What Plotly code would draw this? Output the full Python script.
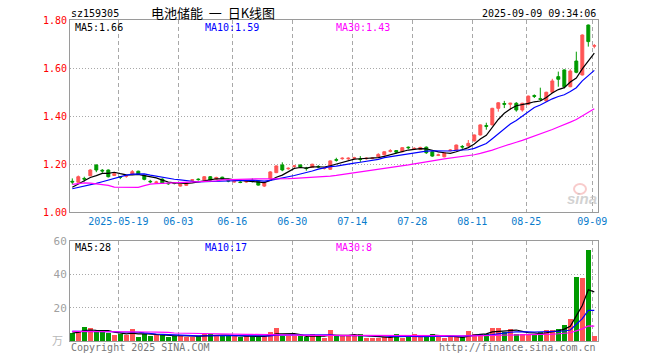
import plotly.graph_objects as go
import pandas as pd

# ---------------- data ----------------
opens = [1.128,1.124,1.140,1.151,1.196,1.174,1.175,1.152,1.147,1.149,
         1.157,1.170,1.153,1.128,1.123,1.137,1.120,1.121,1.108,1.111,
         1.132,1.137,1.133,1.147,1.137,1.145,1.131,1.125,1.125,1.125,
         1.132,1.129,1.108,1.137,1.164,1.196,1.180,1.190,1.196,1.183,
         1.186,1.190,1.181,1.178,1.218,1.222,1.222,1.224,1.221,1.222,
         1.223,1.230,1.238,1.253,1.256,1.251,1.270,1.263,1.260,1.270,
         1.251,1.236,1.230,1.256,1.258,1.273,1.275,1.296,1.321,1.360,
         1.363,1.432,1.452,1.449,1.453,1.425,1.449,1.485,1.472,1.4625,
         1.499,1.564,1.592,1.522,1.629,1.571,1.779,1.691]
closes = [1.125,1.147,1.137,1.175,1.175,1.171,1.147,1.160,1.145,1.151,
          1.168,1.157,1.136,1.126,1.125,1.120,1.118,1.119,1.115,1.122,
          1.134,1.135,1.147,1.133,1.144,1.137,1.129,1.127,1.123,1.127,
          1.130,1.112,1.122,1.167,1.192,1.175,1.182,1.192,1.186,1.181,
          1.199,1.188,1.183,1.213,1.216,1.224,1.224,1.226,1.219,1.224,
          1.225,1.240,1.251,1.255,1.249,1.268,1.268,1.265,1.269,1.247,
          1.233,1.238,1.247,1.258,1.279,1.271,1.286,1.321,1.363,1.357,
          1.432,1.455,1.449,1.453,1.425,1.453,1.483,1.482,1.470,1.499,
          1.546,1.553,1.522,1.5875,1.582,1.7375,1.710,1.693]
highs = [1.140,1.152,1.147,1.178,1.198,1.179,1.177,1.163,1.150,1.155,
         1.175,1.172,1.155,1.134,1.130,1.140,1.124,1.125,1.117,1.124,
         1.137,1.140,1.150,1.150,1.147,1.147,1.137,1.131,1.128,1.131,
         1.140,1.131,1.124,1.170,1.194,1.207,1.186,1.196,1.198,1.188,
         1.201,1.195,1.186,1.215,1.226,1.228,1.228,1.230,1.233,1.228,
         1.228,1.245,1.253,1.262,1.258,1.270,1.273,1.270,1.272,1.273,
         1.253,1.243,1.249,1.262,1.281,1.279,1.300,1.323,1.365,1.372,
         1.434,1.458,1.463,1.455,1.458,1.455,1.485,1.490,1.518,1.501,
         1.555,1.585,1.594,1.595,1.668,1.740,1.781,1.700]
lows = [1.115,1.120,1.127,1.149,1.166,1.163,1.144,1.150,1.137,1.143,
        1.155,1.155,1.132,1.120,1.120,1.118,1.113,1.115,1.106,1.109,
        1.128,1.131,1.131,1.131,1.135,1.135,1.124,1.122,1.120,1.122,
        1.123,1.110,1.104,1.133,1.162,1.170,1.176,1.184,1.184,1.172,
        1.184,1.183,1.177,1.176,1.210,1.218,1.215,1.219,1.208,1.218,
        1.220,1.228,1.236,1.248,1.244,1.249,1.262,1.259,1.258,1.242,
        1.230,1.233,1.228,1.253,1.256,1.263,1.273,1.294,1.319,1.343,
        1.361,1.418,1.433,1.425,1.418,1.418,1.445,1.475,1.463,1.460,
        1.497,1.522,1.515,1.520,1.578,1.569,1.689,1.682]
volumes = [5.0,5.4,8.4,7.6,5.4,5.4,4.6,3.6,4.4,3.6,
           7.0,2.6,4.2,3.0,3.6,3.6,2.6,3.0,3.0,2.6,
           2.6,3.0,4.4,4.2,3.0,3.0,3.0,3.0,2.2,3.0,
           3.0,2.6,3.0,5.4,7.6,3.0,3.0,3.0,3.0,2.2,
           4.4,3.0,1.6,6.6,3.0,3.0,3.0,3.6,4.2,1.6,
           2.0,2.0,2.6,2.6,4.2,1.6,3.0,4.2,3.0,3.0,
           4.4,2.2,1.6,2.6,2.6,2.2,6.0,4.4,4.4,4.4,
           8.0,8.0,5.2,7.2,4.5,4.2,4.2,4.0,5.4,6.9,
           6.9,7.2,9.4,13.5,38.4,38.0,54.6,3.0]

# moving-average values at the left edge (history before the window)
ma5_head = [1.103,1.117,1.131,1.144]
ma10_head = [1.097,1.102,1.107,1.113,1.119,1.126,1.133,1.140,1.146]
ma30_head = [1.115,1.119,1.121,1.120,1.117,1.114,1.111,1.104,1.103,1.103,
             1.103,1.103,1.110,1.116,1.118,1.119,1.120,1.122,1.123,1.123,
             1.124,1.125,1.127,1.129,1.130,1.134,1.135,1.136,1.136]
vol_ma5_head = [4.8,5.2,6.2,6.6]
vol_ma10_head = [5.8,5.8,5.8,5.9,5.9,5.9,5.8,5.6,5.4]
vol_ma30_head = [5.8,5.8,5.8,5.8,5.7,5.7,5.7,5.6,5.6,5.6,
                 5.5,5.5,5.4,5.4,5.3,5.3,5.2,4.8,4.7,4.6,
                 4.6,4.5,4.5,4.4,4.3,4.2,4.2,4.1,4.1]

tick_labels = ["2025-05-19","06-03","06-16","06-30","07-14","07-28","08-11","08-25","09-09"]
tick_candles = [8,18,27,37,47,57,67,76,87]

title_code = "sz159305"
title_name = "电池储能\u00a0\u00a0一\u00a0\u00a0日K线图"
timestamp = "2025-09-09 09:34:06"
ma_price_labels = ["MA5:1.66","MA10:1.59","MA30:1.43"]
ma_vol_labels = ["MA5:28","MA10:17","MA30:8"]

# ---------------- derived ----------------
n = len(closes)
idx = list(range(n))

def moving(values, win, head):
    s = pd.Series(values, dtype=float).rolling(win).mean()
    s.iloc[:win - 1] = head
    return s.tolist()

ma5 = moving(closes, 5, ma5_head)
ma10 = moving(closes, 10, ma10_head)
ma30 = moving(closes, 30, ma30_head)
vma5 = moving(volumes, 5, vol_ma5_head)
vma10 = moving(volumes, 10, vol_ma10_head)
vma30 = moving(volumes, 30, vol_ma30_head)

RED = "#ff5555"
GREEN = "#009a00"
BLUE = "#0000ff"
MAG = "#ff00ff"
GRID = "#a8a8a8"
FRAME = "#9a9a9a"
MONO = "DejaVu Sans Mono, Liberation Mono, monospace"

vol_colors = [RED if c >= o else GREEN for o, c in zip(opens, closes)]

# ---------------- geometry (page body margin removed by post_script) ----------------
W, H = 660, 360
PL, PR, PT, PB = 70, 598, 20, 341          # plot area in window pixels
main_bottom_px, vol_top_px = 212, 241
span = PB - PT

def xp(px):
    return (px - PL) / (PR - PL)

def yp(py):
    return (PB - py) / span

xrange_ = [-0.383, n - 0.383]
tickpos = [c - 0.33 for c in tick_candles]

fig = go.Figure()

fig.add_trace(go.Candlestick(
    x=idx, open=opens, high=highs, low=lows, close=closes,
    increasing=dict(line=dict(color=RED, width=1), fillcolor=RED),
    decreasing=dict(line=dict(color=GREEN, width=1), fillcolor=GREEN),
    whiskerwidth=0, xaxis="x", yaxis="y", showlegend=False))

for vals, col in [(ma5, "black"), (ma10, BLUE), (ma30, MAG)]:
    fig.add_trace(go.Scatter(x=idx, y=vals, mode="lines",
                             line=dict(color=col, width=1.2),
                             xaxis="x", yaxis="y", showlegend=False, hoverinfo="skip"))

fig.add_trace(go.Bar(x=idx, y=volumes, marker=dict(color=vol_colors, line=dict(width=0)),
                     width=0.84, xaxis="x2", yaxis="y2", showlegend=False))
for vals, col in [(vma5, "black"), (vma10, BLUE), (vma30, MAG)]:
    fig.add_trace(go.Scatter(x=idx, y=vals, mode="lines",
                             line=dict(color=col, width=1.2),
                             xaxis="x2", yaxis="y2", showlegend=False, hoverinfo="skip"))

axis_common = dict(showline=True, mirror=True, linecolor=FRAME, linewidth=1,
                   zeroline=False, ticks="", automargin=False)

fig.update_layout(
    width=W, height=H,
    margin=dict(l=PL, r=W - PR, t=PT, b=H - PB, pad=0),
    paper_bgcolor="white", plot_bgcolor="white", bargap=0,
    font=dict(family=MONO, size=10, color="black"),
    xaxis=dict(domain=[0, 1], anchor="y", range=xrange_, tickmode="array",
               tickvals=tickpos, ticktext=tick_labels, showgrid=True,
               gridcolor=GRID, griddash="4px,3px", gridwidth=1,
               tickfont=dict(family=MONO, size=10, color="#0a7ccc"),
               rangeslider=dict(visible=False), **axis_common),
    yaxis=dict(domain=[yp(main_bottom_px), 1], anchor="x", range=[1.0, 1.8],
               tickmode="array", tickvals=[1.0, 1.2, 1.4, 1.6, 1.8],
               ticktext=["1.00", "1.20", "1.40", "1.60", "1.80"],
               showgrid=True, gridcolor=GRID, griddash="1px,2px",
               tickfont=dict(family=MONO, size=10, color="#ff0000"), **axis_common),
    xaxis2=dict(domain=[0, 1], anchor="y2", range=xrange_, tickmode="array",
                tickvals=tickpos, showticklabels=False, showgrid=True,
                gridcolor=GRID, griddash="4px,3px", gridwidth=1, **axis_common),
    yaxis2=dict(domain=[0, yp(vol_top_px)], anchor="x2", range=[0, 60],
                tickmode="array", tickvals=[20, 40, 60], ticktext=["20", "40", "60"],
                showgrid=True, gridcolor=GRID, griddash="1px,2px",
                tickfont=dict(family=MONO, size=11, color="#a0a0a0"), **axis_common),
)

def note(text, px, py, color="black", anchor="left", size=10, family=MONO):
    fig.add_annotation(text=text, xref="paper", yref="paper", x=xp(px), y=yp(py),
                       xanchor=anchor, yanchor="middle", showarrow=False,
                       font=dict(family=family, size=size, color=color))

note(title_code, 69, 13)
note(title_name, 149, 12.5, size=13, family="Noto Sans CJK SC")
note(timestamp, 598, 13, anchor="right")
for lab, px, col in zip(ma_price_labels, [73, 203, 334], ["black", BLUE, MAG]):
    note(lab, px, 27, color=col)
for lab, px, col in zip(ma_vol_labels, [73, 203, 334], ["black", BLUE, MAG]):
    note(lab, px, 247, color=col)
note("万", 57, 340, color="#b8b8b8", anchor="center", size=11, family="Noto Sans CJK SC")
note("Copyright 2025 SINA.COM", 69, 347, color="#777777")
note("http://finance.sina.com.cn", 598, 347, color="#777777", anchor="right")
note("<b><i>sina</i></b>", 582, 199, color="rgba(190,190,190,0.7)", anchor="center",
     size=15, family="Liberation Sans")
fig.add_shape(type="circle", xref="paper", yref="paper",
              x0=xp(574), x1=xp(586), y0=yp(194), y1=yp(184),
              line=dict(color="rgba(240,140,140,0.45)", width=2))

fig.write_html("out.html",
               config={"displayModeBar": False},
               post_script="document.body.style.margin='0px';document.body.style.overflow='hidden';")
